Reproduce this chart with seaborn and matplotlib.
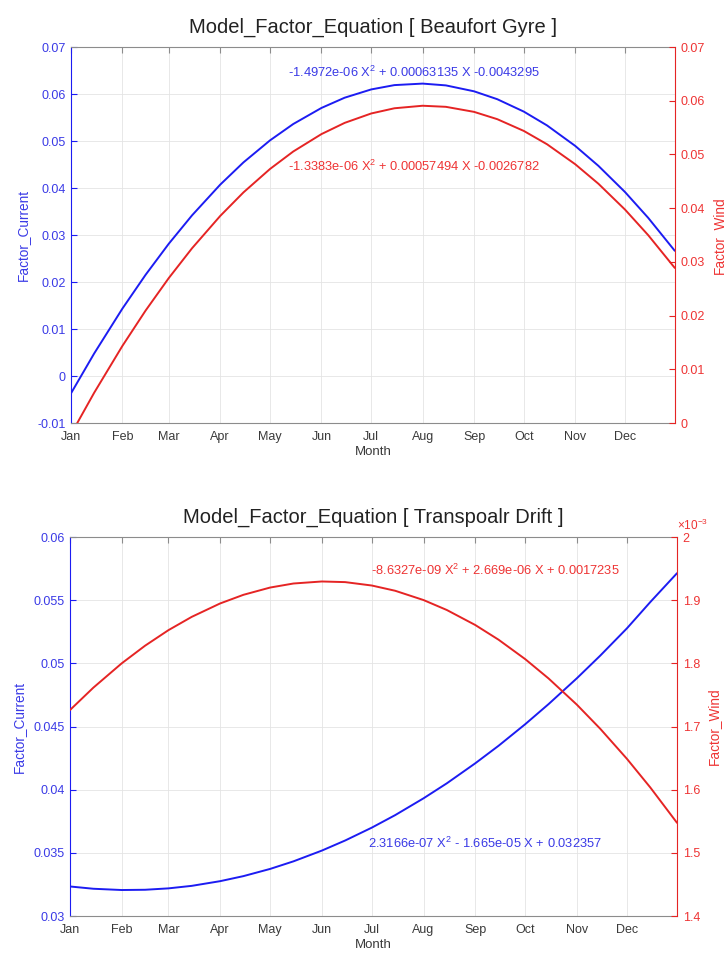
import matplotlib
matplotlib.use("Agg")
import matplotlib.pyplot as plt
import matplotlib.ticker as mticker
import pandas as pd
import seaborn as sns

days = [1, 15, 32, 46, 60, 74, 91, 105, 121, 135, 152, 166, 182,
        196, 213, 227, 244, 258, 274, 288, 305, 319, 335, 349, 365]

month_days = [1, 32, 60, 91, 121, 152, 182, 213, 244, 274, 305, 335]
month_names = ['Jan', 'Feb', 'Mar', 'Apr', 'May', 'Jun',
               'Jul', 'Aug', 'Sep', 'Oct', 'Nov', 'Dec']

# Beaufort Gyre
bg_current = [-0.00370, 0.00480, 0.01434, 0.02154, 0.02816, 0.03419, 0.04073,
              0.04546, 0.05014, 0.05362, 0.05704, 0.05922, 0.06098, 0.06190,
              0.06222, 0.06184, 0.06058, 0.05890, 0.05626, 0.05332, 0.04896,
              0.04471, 0.03915, 0.03365, 0.02665]
bg_wind = [-0.00210, 0.00564, 0.01435, 0.02094, 0.02700, 0.03254, 0.03856,
           0.04294, 0.04730, 0.05055, 0.05379, 0.05588, 0.05763, 0.05860,
           0.05907, 0.05887, 0.05793, 0.05657, 0.05438, 0.05190, 0.04818,
           0.04454, 0.03974, 0.03497, 0.02888]

# Transpolar Drift
td_current = [0.03234, 0.03216, 0.03206, 0.03208, 0.03219, 0.03239, 0.03276,
              0.03316, 0.03373, 0.03433, 0.03518, 0.03598, 0.03700, 0.03799,
              0.03932, 0.04051, 0.04209, 0.04348, 0.04519, 0.04678, 0.04883,
              0.05062, 0.05278, 0.05486, 0.05714]
td_wind = [0.0017262, 0.0017616, 0.0018001, 0.0018280, 0.0018526, 0.0018737,
           0.0018949, 0.0019086, 0.0019201, 0.0019265, 0.0019297, 0.0019287,
           0.0019233, 0.0019150, 0.0019003, 0.0018845, 0.0018608, 0.0018375,
           0.0018067, 0.0017761, 0.0017345, 0.0016964, 0.0016488, 0.0016035,
           0.0015476]

bg_current_eq = '-1.4972e-06 X$^2$ + 0.00063135 X -0.0043295'
bg_wind_eq = '-1.3383e-06 X$^2$ + 0.00057494 X -0.0026782'
td_current_eq = '2.3166e-07 X$^2$ - 1.665e-05 X + 0.032357'
td_wind_eq = '-8.6327e-09 X$^2$ + 2.669e-06 X + 0.0017235'

sns.set_style("white")
plt.rcParams['font.family'] = ['Liberation Sans', 'DejaVu Sans']
plt.rcParams['mathtext.default'] = 'regular'
plt.rcParams['lines.antialiased'] = True

BLUE = '#1c1cf2'
RED = '#e52424'
BLUE_TXT = '#3a3ae6'
RED_TXT = '#ee3434'
GRAY = '#8c8c8c'
TICK_FS = 9
EQ_FS = 9.3


def fmt(v, pos):
    return '%g' % round(v, 6)


def panel(ax, cur, wind, title, ylim_l, yt_l, ylim_r, yt_r):
    df = pd.DataFrame({'day': days, 'cur': cur, 'wind': wind})
    ax2 = ax.twinx()
    sns.lineplot(data=df, x='day', y='cur', ax=ax, color=BLUE, lw=1.4)
    sns.lineplot(data=df, x='day', y='wind', ax=ax2, color=RED, lw=1.4)

    ax.set_xlim(1, 365)
    ax.set_ylim(*ylim_l)
    ax.set_yticks(yt_l)
    ax2.set_ylim(*ylim_r)
    ax2.set_yticks(yt_r)
    ax.set_xticks(month_days)
    ax.set_xticklabels(month_names)
    ax.yaxis.set_major_formatter(mticker.FuncFormatter(fmt))

    ax.grid(True, color='#e4e4e4', lw=0.6)
    ax.set_axisbelow(True)
    ax.tick_params(axis='x', direction='in', length=4, top=True, colors=GRAY,
                   labelcolor='#3a3a3a', labelsize=TICK_FS, pad=6)
    ax.tick_params(axis='y', direction='in', length=4, colors=BLUE,
                   labelcolor=BLUE_TXT, labelsize=TICK_FS, pad=4)
    ax2.tick_params(axis='y', direction='in', length=4, colors=RED,
                    labelcolor=RED_TXT, labelsize=TICK_FS, pad=4)

    for s in ['top', 'bottom']:
        ax.spines[s].set_color(GRAY)
        ax2.spines[s].set_visible(False)
    ax.spines['left'].set_color(BLUE)
    ax.spines['right'].set_visible(False)
    ax2.spines['left'].set_visible(False)
    ax2.spines['right'].set_color(RED)

    ax.set_title(title, fontsize=14.5, pad=10, color='#222222')
    ax.set_xlabel('Month', fontsize=9.5, color='#3a3a3a', labelpad=2)
    ax.set_ylabel('Factor_Current', fontsize=9.8, color=BLUE_TXT, labelpad=5)
    ax2.set_ylabel('Factor_Wind', fontsize=9.8, color=RED_TXT, labelpad=5)
    return ax2


fig = plt.figure(figsize=(7.24, 9.56), dpi=100)

ax_top = fig.add_axes([0.098, 0.5575, 0.834, 0.3933])
ax_top2 = panel(ax_top, bg_current, bg_wind,
                'Model_Factor_Equation [ Beaufort Gyre ]',
                (-0.01, 0.07), [-0.01, 0, 0.01, 0.02, 0.03, 0.04, 0.05, 0.06, 0.07],
                (0, 0.07), [0, 0.01, 0.02, 0.03, 0.04, 0.05, 0.06, 0.07])
ax_top2.yaxis.set_major_formatter(mticker.FuncFormatter(fmt))
ax_top.text(208, 0.0647, bg_current_eq, color=BLUE_TXT, fontsize=EQ_FS,
            ha='center', va='center')
ax_top.text(208, 0.0445, bg_wind_eq, color=RED_TXT, fontsize=EQ_FS,
            ha='center', va='center')

ax_bot = fig.add_axes([0.0967, 0.0418, 0.8384, 0.3964])
ax_bot2 = panel(ax_bot, td_current, td_wind,
                'Model_Factor_Equation [ Transpoalr Drift ]',
                (0.03, 0.06), [0.03, 0.035, 0.04, 0.045, 0.05, 0.055, 0.06],
                (0.0014, 0.0020), [0.0014, 0.0015, 0.0016, 0.0017, 0.0018, 0.0019, 0.0020])
ax_bot2.yaxis.set_major_formatter(
    mticker.FuncFormatter(lambda v, p: '%g' % round(v * 1e3, 4)))
ax_bot2.text(1.0, 1.012, r'$\times$10$^{-3}$', transform=ax_bot2.transAxes,
             color=RED_TXT, fontsize=8.5, ha='left', va='bottom')
ax_bot.text(250, 0.03578, td_current_eq, color=BLUE_TXT, fontsize=EQ_FS,
            ha='center', va='center')
ax_bot2.text(256, 0.0019478, td_wind_eq, color=RED_TXT, fontsize=EQ_FS,
             ha='center', va='center')

fig.savefig('out.png', dpi=100, facecolor='white')
